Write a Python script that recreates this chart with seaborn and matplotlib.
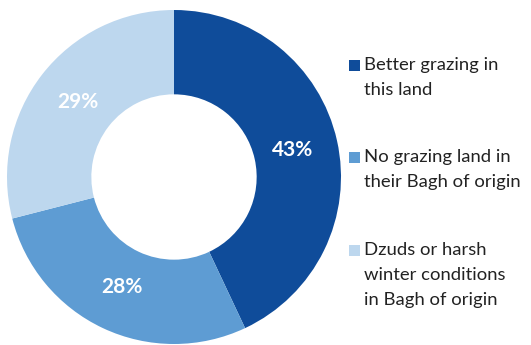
import matplotlib
matplotlib.use("Agg")
import matplotlib.pyplot as plt
from matplotlib.patches import Rectangle
import seaborn as sns

reasons = [
    "Better grazing in\nthis land",
    "No grazing land in\ntheir Bagh of origin",
    "Dzuds or harsh\nwinter conditions\nin Bagh of origin",
]
shares = [43, 28, 29]
colors = ["#0F4C9A", "#5E9CD3", "#BDD7EE"]

sns.set_theme(style="white")
plt.rcParams["font.family"] = ["Lato", "DejaVu Sans"]

W, H = 531, 345
fig = plt.figure(figsize=(W / 100, H / 100), dpi=100)
fig.patch.set_facecolor("white")

# donut: centre at (174, 177) px from top-left, outer radius 167 px
cx, cy, r = 174, 177, 167
ax = fig.add_axes([(cx - r) / W, (H - cy - r) / H, 2 * r / W, 2 * r / H])
palette = sns.color_palette(colors)
wedges, _, autotexts = ax.pie(
    shares,
    colors=palette,
    startangle=90,
    counterclock=False,
    radius=1,
    autopct=lambda p: f"{p:.0f}%",
    pctdistance=0.73,
    wedgeprops=dict(width=0.505, linewidth=0),
    textprops=dict(color="white", fontsize=15, fontweight="bold"),
)
ax.set_xlim(-1, 1)
ax.set_ylim(-1, 1)
ax.set_aspect("equal")
ax.axis("off")

# legend on the right: square marker aligned with the first line of each label
line_h = 25
tops = [65, 157, 250]
for label, col, y in zip(reasons, colors, tops):
    fig.patches.append(Rectangle((349 / W, (H - y - 6) / H), 11 / W, 11 / H,
                                 transform=fig.transFigure, facecolor=col,
                                 edgecolor="none"))
    for i, line in enumerate(label.split("\n")):
        fig.text(364 / W, (H - y - i * line_h) / H, line, fontsize=13.3,
                 color="#222222", va="center", ha="left")

fig.savefig("out.png", dpi=100, facecolor="white")
